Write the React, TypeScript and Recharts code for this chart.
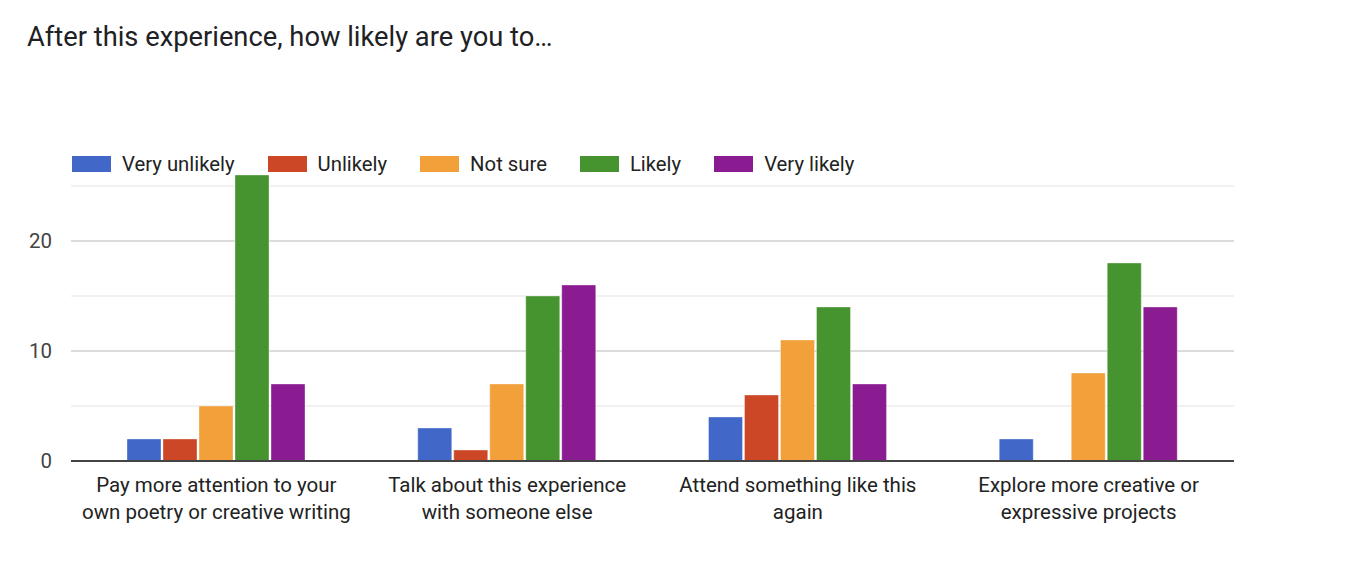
import { BarChart, Bar, XAxis, YAxis, Legend, CartesianGrid } from "recharts";

const categories = [
  "Pay more attention to your own poetry or creative writing",
  "Talk about this experience with someone else",
  "Attend something like this again",
  "Explore more creative or expressive projects",
];
// how the category labels break onto two lines
const categoryLines = [
  ["Pay more attention to your", "own poetry or creative writing"],
  ["Talk about this experience", "with someone else"],
  ["Attend something like this", "again"],
  ["Explore more creative or", "expressive projects"],
];

const seriesNames = ["Very unlikely", "Unlikely", "Not sure", "Likely", "Very likely"];
const seriesColors = ["#4167c8", "#cc4726", "#f1a03a", "#46942f", "#8b1b91"];

const veryUnlikely = [2, 3, 4, 2];
const unlikely = [2, 1, 6, 0];
const notSure = [5, 7, 11, 8];
const likely = [26, 15, 14, 18];
const veryLikely = [7, 16, 7, 14];

const yTicks = [0, 10, 20];
const majorGrid = [10, 20];
const minorGrid = [5, 15, 25];

const seriesValues = [veryUnlikely, unlikely, notSure, likely, veryLikely];

const data = categories.map((name, i) => {
  const row: any = { name };
  seriesNames.forEach((s, j) => {
    row[s] = seriesValues[j][i];
  });
  return row;
});

const FONT = "Roboto, 'Noto Sans', Arial, sans-serif";

const CategoryTick = ({ x, y, payload }: any) => {
  const lines = categoryLines[payload.index] || [payload.value];
  return (
    <text x={x} y={y} textAnchor="middle" fill="#222" fontSize={20.5} fontFamily={FONT}>
      {lines.map((l: string, i: number) => (
        <tspan key={i} x={x} dy={i === 0 ? 23 : 27}>
          {l}
        </tspan>
      ))}
    </text>
  );
};

const LegendRow = () => (
  <div style={{ display: "flex", alignItems: "center", height: 30, fontFamily: FONT, fontSize: 20.3, color: "#222" }}>
    {seriesNames.map((s, i) => (
      <div key={s} style={{ display: "flex", alignItems: "center", marginRight: 33 }}>
        <div style={{ width: 39, height: 16, background: seriesColors[i], marginRight: 11 }} />
        <span>{s}</span>
      </div>
    ))}
  </div>
);

export default function App() {
  return (
    <div style={{ position: "absolute", left: 0, top: 0, width: 1350, height: 570, background: "#fff" }}>
      <div
        style={{
          position: "absolute",
          left: 27,
          top: 21,
          fontFamily: FONT,
          fontSize: 27.3,
          color: "#202124",
          whiteSpace: "nowrap",
        }}
      >
        After this experience, how likely are you to…
      </div>
      <BarChart
        width={1350}
        height={570}
        data={data}
        margin={{ top: 145, right: 116, bottom: 0, left: 0 }}
        barCategoryGap={56}
        barGap={2}
      >
        <CartesianGrid vertical={false} horizontalValues={minorGrid} stroke="#ececec" strokeWidth={1.5} />
        <CartesianGrid vertical={false} horizontalValues={majorGrid} stroke="#d0d0d0" strokeWidth={1.5} />
        <XAxis
          dataKey="name"
          height={109}
          tickLine={false}
          axisLine={{ stroke: "#444", strokeWidth: 2 }}
          tick={<CategoryTick />}
          interval={0}
        />
        <YAxis
          width={71}
          domain={[0, 26]}
          ticks={yTicks}
          tickLine={false}
          axisLine={false}
          tickMargin={13}
          tick={{ fill: "#444", fontSize: 20.5, fontFamily: FONT }}
        />
        <Legend
          verticalAlign="top"
          align="left"
          content={<LegendRow />}
          wrapperStyle={{ top: 149, left: 72, width: 900 }}
        />
        {seriesNames.map((s, i) => (
          <Bar
            key={s}
            dataKey={s}
            fill={seriesColors[i]}
            stroke="rgba(255,255,255,0.35)"
            strokeWidth={1}
            isAnimationActive={false}
          />
        ))}
      </BarChart>
    </div>
  );
}
